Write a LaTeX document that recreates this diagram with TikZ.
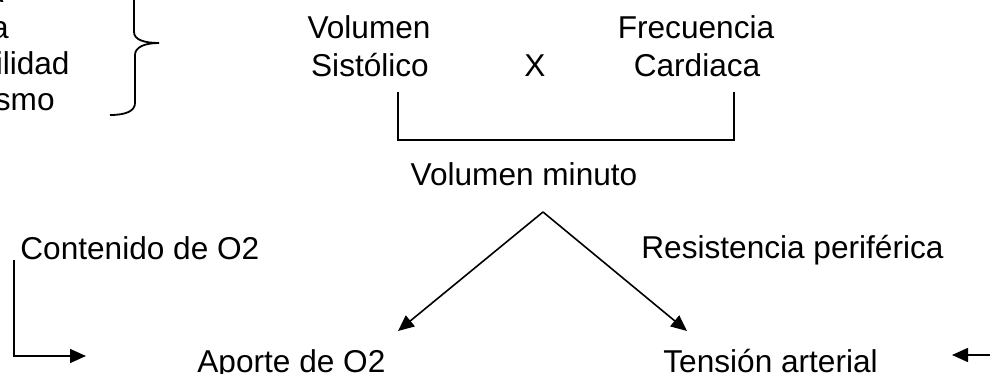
\documentclass[tikz,border=0pt]{standalone}
\usepackage{fontspec}
\setmainfont{Liberation Sans}
\usetikzlibrary{arrows.meta}
\tikzset{
  lbl/.style={inner sep=0pt, font=\fontsize{15.8}{18}\selectfont},
  line/.style={line width=0.8pt, line join=miter},
  arr/.style={line/.try, -{Triangle[length=8pt,width=7pt]}},
}
\begin{document}
\begin{tikzpicture}[x=0.5pt,y=-0.5pt]
\useasboundingbox (0,0) rectangle (990,374);
\clip (0,0) rectangle (990,374);

% list of factors on the left (cut by the page edge)
\node[lbl, anchor=base east] (f1) at (4,3) {A};
\node[lbl, anchor=base east] (f2) at (9,39) {a};
\node[lbl, anchor=base east] (f3) at (70,75) {ilidad};
\node[lbl, anchor=base east] (f4) at (55,111) {smo};

% curly brace grouping the factors
\draw[line, line width=0.9pt] (110,115) .. controls (126,115) and (135,111) .. (135,103)
  -- (135,55) .. controls (135,47) and (145,43) .. (159,43)
  .. controls (145,43) and (134,40) .. (134,32) -- (134,-30);

% product of the two terms
\node[lbl, anchor=base] (vs1) at (369,39) {Volumen};
\node[lbl, anchor=base] (vs2) at (370,76) {Sistólico};
\node[lbl, anchor=base] (por) at (535,76) {X};
\node[lbl, anchor=base] (fc1) at (696,39) {Frecuencia};
\node[lbl, anchor=base] (fc2) at (697,76) {Cardiaca};

\coordinate (bl) at (398,92);
\coordinate (br) at (734,92);
\draw[line] (bl) -- (bl |- 0,140) -- (br |- 0,140) -- (br);

\node[lbl, anchor=base] (vm) at (524,185) {Volumen minuto};

% split into the two outcomes
\coordinate (apex) at (543,212);
\coordinate (tl) at (398,331);
\coordinate (tr) at (687,331);
\draw[arr] (apex) -- (tl);
\draw[arr] (apex) -- (tr);

\node[lbl, anchor=base west] (co) at (20,259) {Contenido de O2};
\node[lbl, anchor=base west] (rp) at (641,258) {Resistencia periférica};

\node[lbl, anchor=base west] (ap) at (197,372) {Aporte de O2};
\node[lbl, anchor=base west] (ta) at (663,372) {Tensión arterial};

% elbow from O2 content to O2 supply
\coordinate (c0) at (14,260);
\coordinate (c1) at (86,356);
\draw[arr] (c0) -- (c0 |- c1) -- (c1);

% incoming arrow from the right edge
\coordinate (r0) at (1000,355);
\coordinate (r1) at (952,355);
\draw[arr] (r0) -- (r1);
\end{tikzpicture}
\end{document}
